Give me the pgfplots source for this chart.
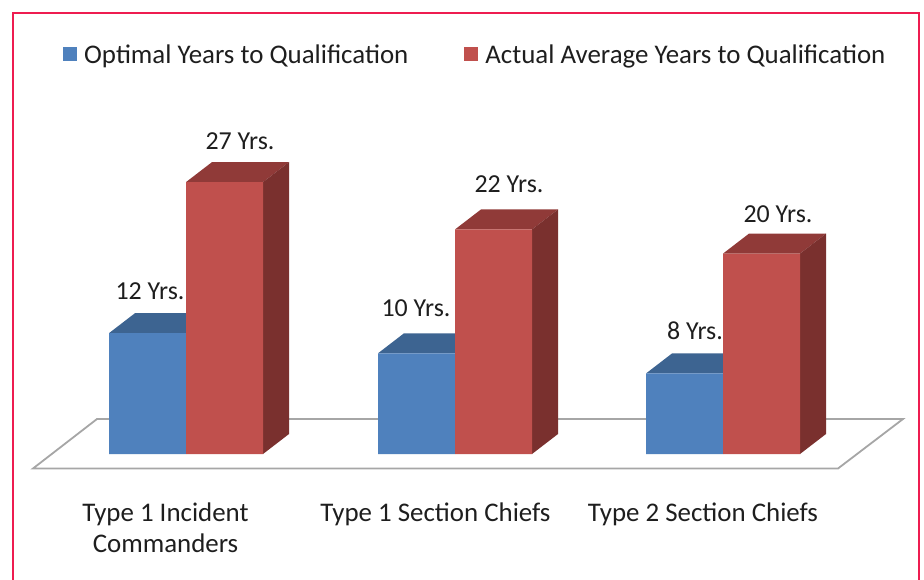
\documentclass[border=0pt]{standalone}
\usepackage{pgfplots}
\pgfplotsset{compat=1.18}
\usepackage{fontspec}
\setmainfont{Carlito}
\definecolor{bfront}{HTML}{4F81BD}
\definecolor{btop}{HTML}{3D6491}
\definecolor{rfront}{HTML}{C0504D}
\definecolor{rtop}{HTML}{903A38}
\definecolor{rside}{HTML}{7A302E}
\definecolor{frame}{HTML}{EE1C50}
\definecolor{floorline}{HTML}{A6A6A6}
\definecolor{txt}{HTML}{1E1E1E}
\newcommand{\lab}[3]{\node[text=txt,font=\fontsize{26}{30}\selectfont] at (axis cs:#1,#2) {#3};}
\begin{document}
\begin{tikzpicture}
\useasboundingbox (0,0) rectangle (924bp,580bp);
\begin{axis}[
  at={(0,0)},anchor=south west,
  scale only axis,width=924bp,height=580bp,
  xmin=0,xmax=924,ymin=-12.512,ymax=45.084,
  axis line style={draw=none},
  tick style={draw=none},
  ytick=\empty,
  xtick={165.5,435.5,703},
  xticklabels={{Type 1 Incident\\Commanders},{Type 1 Section Chiefs},{Type 2 Section Chiefs}},
  xticklabel style={align=center,text=txt,font=\fontsize{27}{31}\selectfont,anchor=north,yshift=81bp},
  clip=false,
  legend columns=2,
  legend style={draw=none,fill=none,at={(axis cs:60,41.0)},anchor=north west,
    font=\fontsize{27}{31}\selectfont,text=txt,
    /tikz/every even column/.append style={column sep=54bp}},
  legend cell align=left,
]
% floor
\addplot[fill=white,draw=floorline,line width=1.8bp,forget plot] coordinates {(33,-1.44)(97,3.476)(903,3.476)(838,-1.44)} -- cycle;
% blue tops
\addplot[fill=btop,draw=none,forget plot] coordinates {(109,12)(186,12)(212,13.986)(135,13.986)} -- cycle;
\addplot[fill=btop,draw=none,forget plot] coordinates {(378,10)(455,10)(481,11.986)(404,11.986)} -- cycle;
\addplot[fill=btop,draw=none,forget plot] coordinates {(646,8)(723,8)(749,9.986)(672,9.986)} -- cycle;
% blue fronts
\addplot[ybar,bar width=77,bar shift=0pt,fill=bfront,draw=none,
  legend image code/.code={\fill[bfront] (0bp,-6bp) rectangle (14bp,8bp);\path (19bp,0bp);}]
  coordinates {(147.5,12)(416.5,10)(684.5,8)};
\addlegendentry{Optimal Years to Qualification}
% red tops and sides
\addplot[fill=rtop,draw=none,forget plot] coordinates {(186,27)(263,27)(289,28.986)(212,28.986)} -- cycle;
\addplot[fill=rside,draw=none,forget plot] coordinates {(263,0)(289,1.986)(289,28.986)(263,27)} -- cycle;
\addplot[fill=rtop,draw=none,forget plot] coordinates {(455,22.3)(532,22.3)(558,24.286)(481,24.286)} -- cycle;
\addplot[fill=rside,draw=none,forget plot] coordinates {(532,0)(558,1.986)(558,24.286)(532,22.3)} -- cycle;
\addplot[fill=rtop,draw=none,forget plot] coordinates {(723,19.9)(800,19.9)(826,21.886)(749,21.886)} -- cycle;
\addplot[fill=rside,draw=none,forget plot] coordinates {(800,0)(826,1.986)(826,21.886)(800,19.9)} -- cycle;
% red fronts
\addplot[ybar,bar width=77,bar shift=0pt,fill=rfront,draw=none,
  legend image code/.code={\fill[rfront] (0bp,-6bp) rectangle (14bp,8bp);\path (19bp,0bp);}]
  coordinates {(224.5,27)(493.5,22.3)(761.5,19.9)};
\addlegendentry{Actual Average Years to Qualification}
% value labels
\lab{150}{16.2}{12 Yrs.}
\lab{240}{31.1}{27 Yrs.}
\lab{416}{14.5}{10 Yrs.}
\lab{509}{26.8}{22 Yrs.}
\lab{695}{12.2}{8 Yrs.}
\lab{778}{23.8}{20 Yrs.}
% frame
\draw[frame,line width=2.2bp] (axis cs:13,-12.512) -- (axis cs:13,43.79) -- (axis cs:919,43.79) -- (axis cs:919,-12.512);
\end{axis}
\end{tikzpicture}
\end{document}
